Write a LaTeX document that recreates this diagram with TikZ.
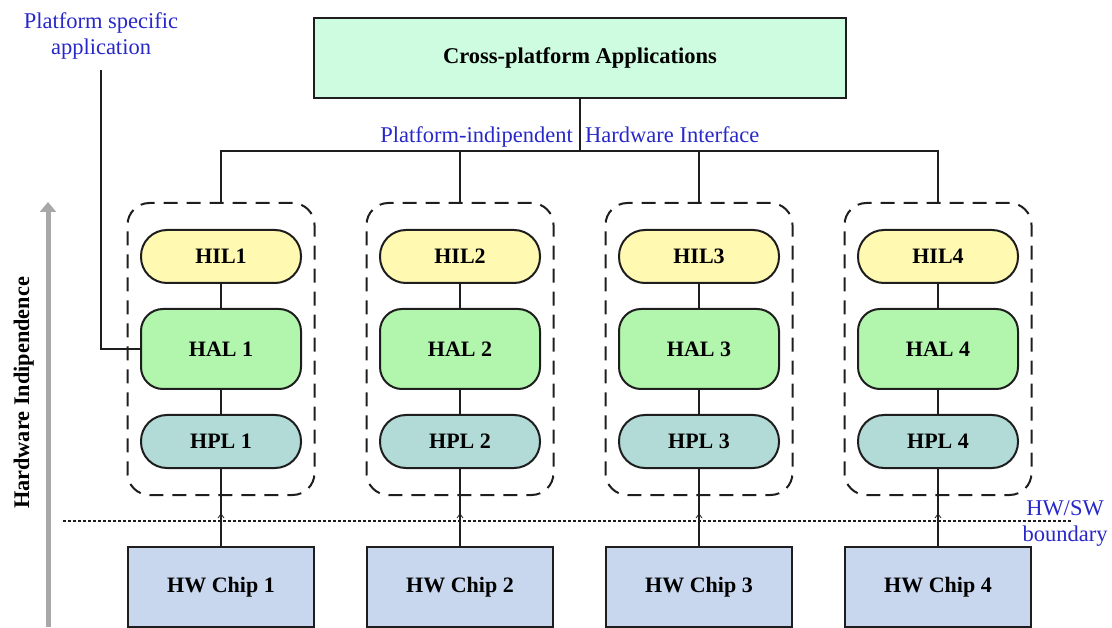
\documentclass[tikz,border=0pt]{standalone}
\usepackage{fontspec}
\setmainfont{Liberation Serif}
\usetikzlibrary{arrows.meta,calc}

\definecolor{appfill}{RGB}{206,252,224}
\definecolor{hilfill}{RGB}{255,249,178}
\definecolor{halfill}{RGB}{178,246,174}
\definecolor{hplfill}{RGB}{178,219,216}
\definecolor{chipfill}{RGB}{200,215,237}
\definecolor{note}{RGB}{40,40,200}
\definecolor{edge}{RGB}{30,30,30}
\definecolor{axis}{RGB}{168,168,168}

\tikzset{
  box/.style={draw=edge, line width=2pt, inner sep=0pt, align=center,
    font=\fontsize{22}{26}\selectfont\bfseries},
  appbox/.style={box, fill=appfill, minimum width=532pt, minimum height=80pt,
    font=\fontsize{22.5}{26}\selectfont\bfseries},
  hilbox/.style={box, fill=hilfill, rounded corners=26pt,
    minimum width=160pt, minimum height=53pt},
  halbox/.style={box, fill=halfill, rounded corners=22pt,
    minimum width=160pt, minimum height=80pt},
  hplbox/.style={box, fill=hplfill, rounded corners=26pt,
    minimum width=160pt, minimum height=53pt},
  chipbox/.style={box, fill=chipfill, minimum width=186pt, minimum height=80pt},
  groupbox/.style={draw=edge, line width=2pt, dash pattern=on 14pt off 9pt,
    rounded corners=22pt, inner sep=0pt, minimum width=187pt, minimum height=292pt},
  wire/.style={draw=edge, line width=1.9pt},
  notetext/.style={text=note, inner sep=0pt, align=center,
    font=\fontsize{22.5}{26}\selectfont},
}

\begin{document}
\begin{tikzpicture}[x=1pt, y=-1pt]
  \useasboundingbox (0,0) rectangle (1112,628);

  % top application layer
  \node[appbox] (app) at (580,58) {Cross-platform Applications};
  \coordinate (bus) at (580,151);

  % one software stack per hardware chip
  \foreach \i/\c in {1/221, 2/460, 3/699, 4/938} {
    \node[groupbox] (g\i) at (\c,349) {};
    \node[hilbox] (hil\i) at (\c,256.5) {HIL\i};
    \node[halbox] (hal\i) at (\c,349) {HAL \i};
    \node[hplbox] (hpl\i) at (\c,441.5) {HPL \i};
    \node[chipbox] (chip\i) at (\c,587) {HW Chip \i};
    \draw[wire] (hil\i.south) -- (hal\i.north);
    \draw[wire] (hal\i.south) -- (hpl\i.north);
    \draw[wire] (hpl\i.south) -- (chip\i.north);
    \draw[edge, line width=0.8pt] ($(chip\i.north)+(-3,-28)$) -- ($(chip\i.north)+(0,-32)$)
      -- ($(chip\i.north)+(3,-28)$);
  }

  % platform-independent interface bus
  \draw[wire] (app.south) -- (bus);
  \draw[wire] (g1.north) |- (bus) -| (g4.north);
  \draw[wire] (g2.north) -- (g2.north |- bus);
  \draw[wire] (g3.north) -- (g3.north |- bus);
  \node[notetext, anchor=base east] (pi) at (573,143) {Platform-indipendent};
  \node[notetext, anchor=base west] (hi) at (585,143) {Hardware Interface};

  % platform specific application entry point
  \node[notetext, anchor=north] (psa) at (101,12) {Platform specific\\application};
  \coordinate (psatop) at (101,70);
  \draw[wire] (psatop) |- (hal1.west);

  % hardware / software boundary
  \coordinate (bndl) at (63,521);
  \coordinate (bndr) at (1072,521);
  \draw[edge, line width=2pt, dash pattern=on 3pt off 2pt] (bndl) -- (bndr);
  \node[notetext, anchor=north] (hwsw) at (1065,500) {HW/SW\\boundary};

  % hardware independence axis
  \coordinate (axbot) at (48,627);
  \coordinate (axtop) at (48,202);
  \draw[axis, line width=5pt, -{Triangle[length=10pt,width=16pt]}] (axbot) -- (axtop);
  \node[anchor=base, rotate=90, inner sep=0pt,
    font=\fontsize{22.3}{26}\selectfont\bfseries] (hwi) at (29,393) {Hardware Indipendence};
\end{tikzpicture}
\end{document}
